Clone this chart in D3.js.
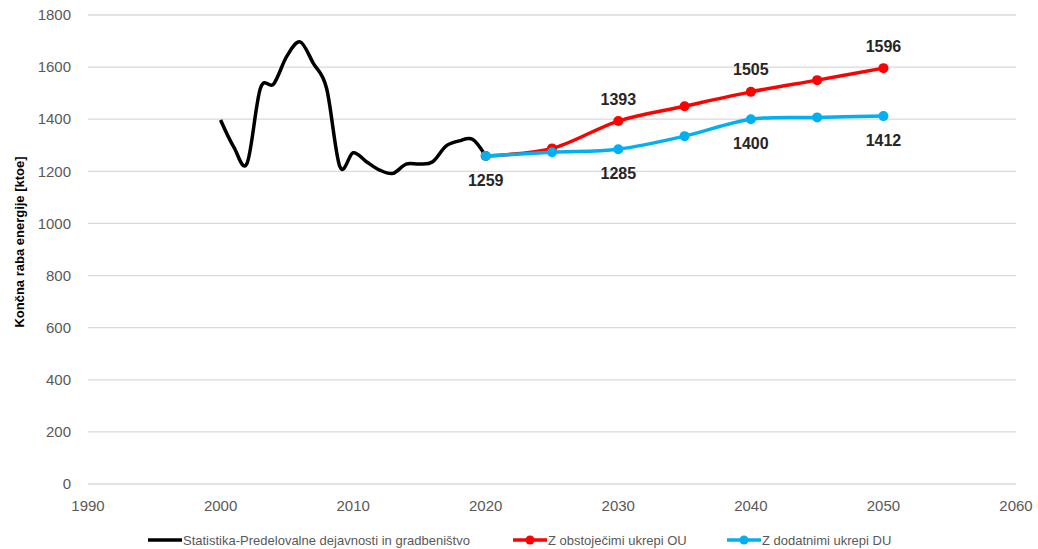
<!DOCTYPE html>
<html>
<head>
<meta charset="utf-8">
<script src="https://cdn.jsdelivr.net/npm/d3@7"></script>
<style>
    body { margin: 0; background: #fff; }
    svg { font-family: 'Liberation Sans', Arial, sans-serif; }
</style>
</head>
<body>
<svg id="chart"></svg>
<script>
// historic statistics, one value per year
const histYears = [2000, 2001, 2002, 2003, 2004, 2005, 2006, 2007, 2008, 2009, 2010,
    2011, 2012, 2013, 2014, 2015, 2016, 2017, 2018, 2019, 2020];
const histValues = [1397, 1293, 1231, 1518, 1535, 1642, 1697, 1614, 1518, 1218, 1271,
    1237, 1205, 1192, 1228, 1228, 1237, 1297, 1317, 1323, 1259];

// scenarios, every 5 years
const scenYears = [2020, 2025, 2030, 2035, 2040, 2045, 2050];
const ouValues = [1259, 1288, 1393, 1450, 1505, 1550, 1596];
const duValues = [1259, 1273, 1285, 1335, 1400, 1407, 1412];

const yTicks = [0, 200, 400, 600, 800, 1000, 1200, 1400, 1600, 1800];
const xTicks = [1990, 2000, 2010, 2020, 2030, 2040, 2050, 2060];

// data labels: [year, value, series, above?]
const labels = [
    [2020, 1259, 'du', false],
    [2030, 1393, 'ou', true],
    [2030, 1285, 'du', false],
    [2040, 1505, 'ou', true],
    [2040, 1400, 'du', false],
    [2050, 1596, 'ou', true],
    [2050, 1412, 'du', false],
];

const seriesNames = [
    'Statistika-Predelovalne dejavnosti in gradbeništvo',
    'Z obstoječimi ukrepi OU',
    'Z dodatnimi ukrepi DU',
];

const colors = { hist: '#000000', ou: '#ff0000', du: '#00b0f0' };

const width = 1038;
const height = 549;
const margin = { top: 15, right: 22, bottom: 65, left: 88 };

const svg = d3.select('#chart')
    .attr('width', width)
    .attr('height', height);

const x = d3.scaleLinear()
    .domain([1990, 2060])
    .range([margin.left, width - margin.right]);

const y = d3.scaleLinear()
    .domain([0, 1800])
    .range([height - margin.bottom - 0, margin.top]);

// gridlines
svg.append('g')
    .selectAll('line')
    .data(yTicks)
    .join('line')
    .attr('x1', x(1990))
    .attr('x2', x(2060))
    .attr('y1', d => y(d))
    .attr('y2', d => y(d))
    .attr('stroke', '#d9d9d9')
    .attr('stroke-width', 1.3);

// y tick labels
svg.append('g')
    .selectAll('text')
    .data(yTicks)
    .join('text')
    .attr('x', x(1990) - 17)
    .attr('y', d => y(d))
    .attr('dy', '0.35em')
    .attr('text-anchor', 'end')
    .attr('font-size', 15)
    .attr('fill', '#595959')
    .text(d => d);

// x tick labels
svg.append('g')
    .selectAll('text')
    .data(xTicks)
    .join('text')
    .attr('x', d => x(d))
    .attr('y', 506)
    .attr('dy', '0.35em')
    .attr('text-anchor', 'middle')
    .attr('font-size', 15)
    .attr('fill', '#595959')
    .text(d => d);

// y axis title
svg.append('text')
    .attr('transform', `translate(19, ${242}) rotate(-90)`)
    .attr('text-anchor', 'middle')
    .attr('dy', '0.35em')
    .attr('font-size', 13)
    .attr('font-weight', 'bold')
    .attr('fill', '#000')
    .text('Končna raba energije [ktoe]');

const line = d3.line()
    .x(d => x(d[0]))
    .y(d => y(d[1]))
    .curve(d3.curveCardinal.tension(0));

const histData = histYears.map((yr, i) => [yr, histValues[i]]);
const ouData = scenYears.map((yr, i) => [yr, ouValues[i]]);
const duData = scenYears.map((yr, i) => [yr, duValues[i]]);

svg.append('path')
    .datum(histData)
    .attr('fill', 'none')
    .attr('stroke', colors.hist)
    .attr('stroke-width', 3.5)
    .attr('stroke-linejoin', 'round')
    .attr('d', line);

[['ou', ouData], ['du', duData]].forEach(([key, data]) => {
    const g = svg.append('g');
    g.append('path')
        .datum(data)
        .attr('fill', 'none')
        .attr('stroke', colors[key])
        .attr('stroke-width', 3.5)
        .attr('d', line);
    g.selectAll('circle')
        .data(data)
        .join('circle')
        .attr('cx', d => x(d[0]))
        .attr('cy', d => y(d[1]))
        .attr('r', 5)
        .attr('fill', colors[key]);
});

// data labels
svg.append('g')
    .selectAll('text')
    .data(labels)
    .join('text')
    .attr('x', d => x(d[0]))
    .attr('y', d => y(d[1]) + (d[3] ? -22 : 24))
    .attr('dy', '0.35em')
    .attr('text-anchor', 'middle')
    .attr('font-size', 16)
    .attr('font-weight', 'bold')
    .attr('fill', '#262626')
    .text(d => d[1]);

// legend
const legendItems = [
    { name: seriesNames[0], color: colors.hist, x0: 148, marker: false },
    { name: seriesNames[1], color: colors.ou, x0: 513, marker: true },
    { name: seriesNames[2], color: colors.du, x0: 727, marker: true },
];
const legendY = 540;
const legend = svg.append('g')
    .selectAll('g')
    .data(legendItems)
    .join('g')
    .attr('transform', d => `translate(${d.x0}, ${legendY})`);

legend.append('line')
    .attr('x1', 0)
    .attr('x2', 34)
    .attr('stroke', d => d.color)
    .attr('stroke-width', 3.5);

legend.filter(d => d.marker)
    .append('circle')
    .attr('cx', 17)
    .attr('r', 4.5)
    .attr('fill', d => d.color);

legend.append('text')
    .attr('x', 35)
    .attr('dy', '0.35em')
    .attr('font-size', 13)
    .attr('fill', '#595959')
    .text(d => d.name);
</script>
</body>
</html>
